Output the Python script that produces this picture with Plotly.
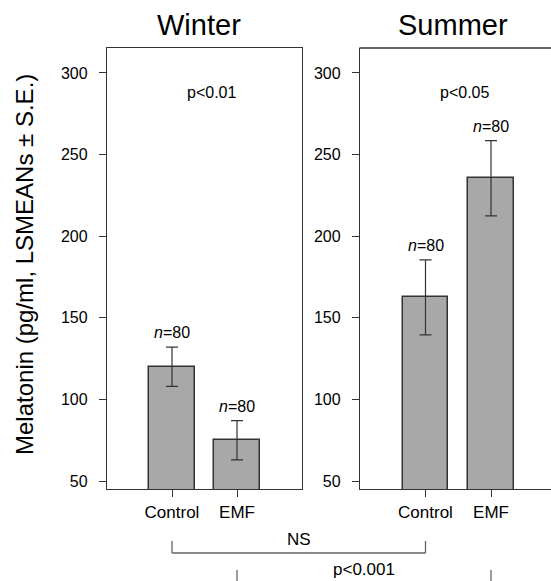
import plotly.graph_objects as go

# ---- data ----
seasons = ["Winter", "Summer"]
groups = ["Control", "EMF"]
winter_means = [120, 75]
winter_se = [12, 12]
summer_means = [162.5, 235.5]
summer_se = [23, 23]
n_labels = ["80", "80"]
within_p = ["p<0.01", "p<0.05"]
between_tests = ["NS", "p<0.001"]
y_ticks = [50, 100, 150, 200, 250, 300]

W, H = 551, 581
FONT = "Liberation Sans, Arial, sans-serif"
AX = "#333333"
BAR = "#a8a8a8"

# layout geometry (pixels)
L_X0, L_X1 = 107, 302
R_X0, R_X1 = 360, 551
Y_TOP, Y_BOT = 48, 489
XR_L = [0, 3]
XR_R = [0, 3 * (R_X1 - R_X0) / 196.5]
YR = [45.1, 315.3]

def px_x(px):
    return px / W

def px_y(py):
    return 1 - py / H

def data_to_px(x, panel):
    x0, x1, r = (L_X0, L_X1, XR_L) if panel == 0 else (R_X0, R_X1, XR_R)
    return x0 + (x - r[0]) / (r[1] - r[0]) * (x1 - x0)

xpos = [1, 2]

fig = go.Figure()
for i, (means, se) in enumerate([(winter_means, winter_se), (summer_means, summer_se)]):
    xa = "x" if i == 0 else "x2"
    ya = "y" if i == 0 else "y2"
    fig.add_trace(go.Bar(
        x=xpos, y=means, width=0.7, xaxis=xa, yaxis=ya,
        marker=dict(color=BAR, line=dict(color=AX, width=1.5)),
        error_y=dict(type="data", array=se, visible=True, color=AX, thickness=1.2, width=6),
        showlegend=False, hoverinfo="skip",
    ))

ax_common = dict(showgrid=False, zeroline=False, showline=True, linecolor=AX, linewidth=1.3,
                 ticks="outside", ticklen=7, tickcolor=AX, tickwidth=1.2,
                 tickfont=dict(family=FONT, size=16, color="black"))
xt_font = dict(family=FONT, size=17, color="black")

fig.update_layout(
    width=W, height=H, margin=dict(l=0, r=0, t=0, b=0),
    paper_bgcolor="white", plot_bgcolor="white",
    bargap=0,
    xaxis=dict(domain=[px_x(L_X0), px_x(L_X1)], range=XR_L, anchor="y", mirror=True,
               tickvals=xpos, ticktext=groups, **{**ax_common, "tickfont": xt_font}),
    yaxis=dict(domain=[px_y(Y_BOT), px_y(Y_TOP)], range=YR, anchor="x", mirror=True,
               tickvals=y_ticks, ticklabelstandoff=8, **ax_common),
    xaxis2=dict(domain=[px_x(R_X0), 1.0], range=XR_R, anchor="y2", mirror=False,
                tickvals=xpos, ticktext=groups, **{**ax_common, "tickfont": xt_font}),
    yaxis2=dict(domain=[px_y(Y_BOT), px_y(Y_TOP)], range=YR, anchor="x2", mirror=False,
                tickvals=y_ticks, ticklabelstandoff=8, **ax_common),
)

ann = []
# panel titles
for i, s in enumerate(seasons):
    cx = data_to_px(1.42, i)
    ann.append(dict(text=s, xref="paper", yref="paper", x=px_x(cx), y=px_y(25),
                    showarrow=False, xanchor="center", yanchor="middle",
                    font=dict(family=FONT, size=29, color="black")))
# within-season p values
for i, p in enumerate(within_p):
    xa = "x" if i == 0 else "x2"
    ya = "y" if i == 0 else "y2"
    ann.append(dict(text=p, xref=xa, yref=ya, x=1.6, y=288, showarrow=False,
                    xanchor="center", yanchor="middle", font=dict(family=FONT, size=16, color="black")))
# n labels
for i, (means, se) in enumerate([(winter_means, winter_se), (summer_means, summer_se)]):
    xa = "x" if i == 0 else "x2"
    ya = "y" if i == 0 else "y2"
    for xv, m, e, n in zip(xpos, means, se, n_labels):
        ann.append(dict(text=f"<i>n</i>={n}", xref=xa, yref=ya, x=xv, y=m + e, showarrow=False,
                        xanchor="center", yanchor="bottom", yshift=4,
                        font=dict(family=FONT, size=16, color="black")))
# y-axis title
ann.append(dict(text="Melatonin (pg/ml, LSMEANs ± S.E.)", xref="paper", yref="paper",
                x=px_x(24), y=px_y(265), textangle=-90, showarrow=False,
                xanchor="center", yanchor="middle", font=dict(family=FONT, size=24, color="black")))

shapes = []
# top border of the (cut-off) summer panel
shapes.append(dict(type="line", xref="paper", yref="paper", x0=px_x(R_X0 - 0.6), x1=1.02,
                   y0=px_y(Y_TOP), y1=px_y(Y_TOP), line=dict(color=AX, width=1.3)))
BR = "#666666"
# NS bracket: winter control vs summer control
xa_px = data_to_px(1, 0)
xb_px = data_to_px(1, 1)
for xp in (xa_px, xb_px):
    shapes.append(dict(type="line", xref="paper", yref="paper", x0=px_x(xp), x1=px_x(xp),
                       y0=px_y(541), y1=px_y(553), line=dict(color=BR, width=1.3)))
shapes.append(dict(type="line", xref="paper", yref="paper", x0=px_x(xa_px), x1=px_x(xb_px),
                   y0=px_y(553), y1=px_y(553), line=dict(color=BR, width=1.3)))
ann.append(dict(text=between_tests[0], xref="paper", yref="paper", x=px_x((xa_px + xb_px) / 2),
                y=px_y(539), showarrow=False, xanchor="center", yanchor="middle",
                font=dict(family=FONT, size=17, color="black")))
# p<0.001 bracket: winter EMF vs summer EMF (cut off at bottom)
xc_px = data_to_px(2, 0)
xd_px = data_to_px(2, 1)
for xp in (xc_px, xd_px):
    shapes.append(dict(type="line", xref="paper", yref="paper", x0=px_x(xp), x1=px_x(xp),
                       y0=px_y(570), y1=px_y(585), line=dict(color=BR, width=1.3)))
ann.append(dict(text=between_tests[1], xref="paper", yref="paper", x=px_x((xc_px + xd_px) / 2),
                y=px_y(569), showarrow=False, xanchor="center", yanchor="middle",
                font=dict(family=FONT, size=17, color="black")))

fig.update_layout(annotations=ann, shapes=shapes)
fig.write_html("out.html", config={"displayModeBar": False},
               post_script="document.body.style.margin='0';document.body.style.overflow='hidden';")
